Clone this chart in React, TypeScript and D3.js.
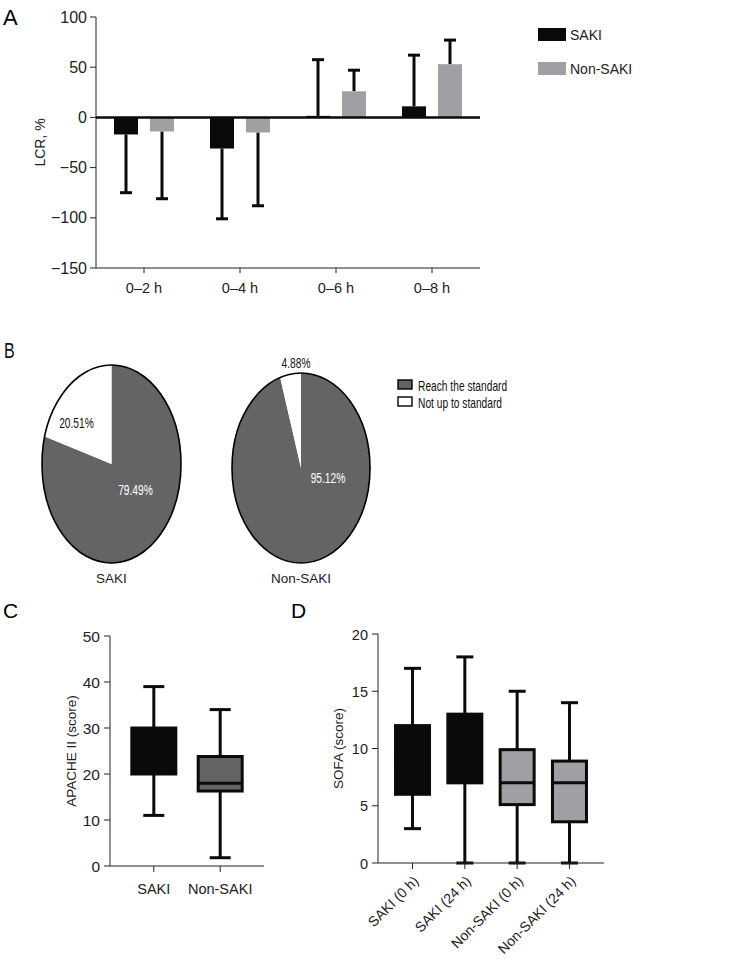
import * as d3 from 'd3';

// Panel A: LCR (%) mean with one-sided SD
const lcrGroups = ['0–2 h', '0–4 h', '0–6 h', '0–8 h'];
const lcrSeries = ['SAKI', 'Non-SAKI'];
const lcrSakiMean = [-17, -31, 1.5, 11];
const lcrSakiSd = [58, 70, 56, 51];
const lcrNonMean = [-14, -15, 26, 53];
const lcrNonSd = [67, 73, 21, 24];
const lcrTicks = [-150, -100, -50, 0, 50, 100];

// Panel B: share reaching the standard
const pieGroups = ['SAKI', 'Non-SAKI'];
const pieReach = [79.49, 95.12];
const pieNot = [20.51, 4.88];
const pieLegend = ['Reach the standard', 'Not up to standard'];

// Panel C: APACHE II
const apacheGroups = ['SAKI', 'Non-SAKI'];
const apacheMin = [11, 1.8];
const apacheQ1 = [20, 16.3];
const apacheMedian = [25, 18];
const apacheQ3 = [30, 23.8];
const apacheMax = [39, 34];
const apacheTicks = [0, 10, 20, 30, 40, 50];

// Panel D: SOFA
const sofaGroups = ['SAKI (0 h)', 'SAKI (24 h)', 'Non-SAKI (0 h)', 'Non-SAKI (24 h)'];
const sofaMin = [3, 0, 0, 0];
const sofaQ1 = [6, 7, 5.1, 3.6];
const sofaMedian = [9, 10, 7, 7];
const sofaQ3 = [12, 13, 9.9, 8.9];
const sofaMax = [17, 18, 15, 14];
const sofaTicks = [0, 5, 10, 15, 20];

const FONT = '"Liberation Sans", Arial, Helvetica, sans-serif';
const BLACK = '#0a0a0a';
const GRAY = '#a0a0a4';
const DARK = '#646464';

function BarPanel() {
  const x = d3.scaleBand<string>().domain(lcrGroups).range([96, 480]);
  const y = d3.scaleLinear().domain([-150, 100]).range([268, 17]);
  const series = [
    { name: lcrSeries[0], mean: lcrSakiMean, sd: lcrSakiSd, color: BLACK, dx: -18 },
    { name: lcrSeries[1], mean: lcrNonMean, sd: lcrNonSd, color: GRAY, dx: 18 },
  ];
  const bw = 24;
  return (
    <g>
      <text x={3} y={25} fontSize={22} fontFamily={FONT}>A</text>
      {/* y axis */}
      <line x1={96} x2={96} y1={y(100)} y2={y(-150)} stroke="#222" strokeWidth={1} />
      {lcrTicks.map((t) => (
        <g key={t}>
          <line x1={90} x2={96} y1={y(t)} y2={y(t)} stroke="#222" />
          <text x={87} y={y(t) + 5.5} textAnchor="end" fontSize={16} fontFamily={FONT} fill="#222">
            {t < 0 ? `−${-t}` : t}
          </text>
        </g>
      ))}
      <text
        transform={`translate(45,${(y(100) + y(-150)) / 2}) rotate(-90)`}
        textAnchor="middle"
        fontSize={14}
        fontFamily={FONT}
        fill="#222"
      >
        LCR, %
      </text>
      {/* bottom axis */}
      <line x1={96} x2={480} y1={y(-150)} y2={y(-150)} stroke="#222" />
      {lcrGroups.map((g) => {
        const cx = x(g)! + x.bandwidth() / 2;
        return (
          <g key={g}>
            <line x1={cx} x2={cx} y1={y(-150)} y2={y(-150) + 5} stroke="#222" />
            <text x={cx} y={y(-150) + 25} textAnchor="middle" fontSize={14.5} fontFamily={FONT} fill="#222">
              {g}
            </text>
          </g>
        );
      })}
      {/* bars and error bars */}
      {series.map((s) =>
        lcrGroups.map((g, i) => {
          const cx = x(g)! + x.bandwidth() / 2 + s.dx;
          const m = s.mean[i];
          const end = m + Math.sign(m) * s.sd[i];
          return (
            <g key={s.name + g}>
              <line x1={cx} x2={cx} y1={y(m)} y2={y(end)} stroke={BLACK} strokeWidth={3} />
              <line x1={cx - 6} x2={cx + 6} y1={y(end)} y2={y(end)} stroke={BLACK} strokeWidth={3} />
              <rect
                x={cx - bw / 2}
                width={bw}
                y={Math.min(y(m), y(0))}
                height={Math.abs(y(m) - y(0))}
                fill={s.color}
              />
            </g>
          );
        })
      )}
      <line x1={96} x2={480} y1={y(0)} y2={y(0)} stroke={BLACK} strokeWidth={2.5} />
      {/* legend */}
      {series.map((s, i) => (
        <g key={s.name} transform={`translate(538,${28 + i * 34})`}>
          <rect width={28} height={13} fill={s.color} />
          <text x={32} y={12} fontSize={14} fontFamily={FONT} fill="#222">
            {s.name}
          </text>
        </g>
      ))}
    </g>
  );
}

function Narrow({ x, y, children, anchor = 'start', fill = '#111', size = 14 }: any) {
  return (
    <text
      transform={`translate(${x},${y}) scale(0.73,1)`}
      textAnchor={anchor}
      fontSize={size}
      fontFamily={FONT}
      fill={fill}
    >
      {children}
    </text>
  );
}

function PiePanel() {
  const layout = [
    { cx: 111.5, cy: 464, rx: 69.5, ry: 99, big: [24, 31], small: [-35, -36] },
    { cx: 301, cy: 468, rx: 69, ry: 95, big: [27, 15], small: [-5, -100] },
  ];
  const pie = d3.pie<number>().sort(null).value((d) => d);
  const arc = d3.arc<d3.PieArcDatum<number>>().innerRadius(0).outerRadius(1);
  return (
    <g>
      <Narrow x={4} y={358} size={22}>B</Narrow>
      {pieGroups.map((g, i) => {
        const L = layout[i];
        const arcs = pie([pieReach[i], pieNot[i]]);
        return (
          <g key={g}>
            <g transform={`translate(${L.cx},${L.cy}) scale(${L.rx},${L.ry})`}>
              {arcs.map((a, j) => (
                <path key={j} d={arc(a)!} fill={j === 0 ? DARK : '#fff'} />
              ))}
              <ellipse
                cx={0}
                cy={0}
                rx={1}
                ry={1}
                fill="none"
                stroke="#000"
                strokeWidth={1.6}
                vectorEffect="non-scaling-stroke"
              />
            </g>
            <Narrow x={L.cx + L.big[0]} y={L.cy + L.big[1]} anchor="middle" fill="#fff">
              {pieReach[i].toFixed(2)}%
            </Narrow>
            <Narrow x={L.cx + L.small[0]} y={L.cy + L.small[1]} anchor="middle">
              {pieNot[i].toFixed(2)}%
            </Narrow>
            <text x={L.cx} y={583} textAnchor="middle" fontSize={13.5} fontFamily={FONT} fill="#222">
              {g}
            </text>
          </g>
        );
      })}
      {pieLegend.map((t, i) => (
        <g key={t} transform={`translate(398,${380 + i * 17})`}>
          <rect width={14} height={9} fill={i === 0 ? DARK : '#fff'} stroke="#000" strokeWidth={1.4} />
          <Narrow x={20} y={11}>{t}</Narrow>
        </g>
      ))}
    </g>
  );
}

function BoxPanel({
  letter, letterX, groups, min, q1, med, q3, max, ticks, domain, tickSize,
  x0, x1, yTop, yBottom, boxW, capW, fills, label, labelX, rotate,
}: any) {
  const x = d3.scalePoint<string>().domain(groups).range([x0, x1]).padding(0.66);
  const y = d3.scaleLinear().domain(domain).range([yBottom, yTop]);
  return (
    <g>
      <text x={letterX} y={618} fontSize={21} fontFamily={FONT}>{letter}</text>
      <line x1={x0} x2={x0} y1={yTop} y2={yBottom} stroke="#222" />
      {ticks.map((t: number) => (
        <g key={t}>
          <line x1={x0 - 6} x2={x0} y1={y(t)} y2={y(t)} stroke="#222" />
          <text x={x0 - 10} y={y(t) + 5.5} textAnchor="end" fontSize={tickSize} fontFamily={FONT} fill="#222">
            {t}
          </text>
        </g>
      ))}
      <text
        transform={`translate(${labelX},${(yTop + yBottom) / 2}) rotate(-90)`}
        textAnchor="middle"
        fontSize={13.5}
        fontFamily={FONT}
        fill="#222"
      >
        {label}
      </text>
      {groups.map((g: string, i: number) => {
        const cx = x(g)!;
        return (
          <g key={g}>
            <line x1={cx} x2={cx} y1={y(min[i])} y2={y(max[i])} stroke={BLACK} strokeWidth={3} />
            <line x1={cx - capW / 2} x2={cx + capW / 2} y1={y(min[i])} y2={y(min[i])} stroke={BLACK} strokeWidth={3} />
            <line x1={cx - capW / 2} x2={cx + capW / 2} y1={y(max[i])} y2={y(max[i])} stroke={BLACK} strokeWidth={3} />
            <rect
              x={cx - boxW / 2}
              width={boxW}
              y={y(q3[i])}
              height={y(q1[i]) - y(q3[i])}
              fill={fills[i]}
              stroke={BLACK}
              strokeWidth={3}
            />
            <line x1={cx - boxW / 2} x2={cx + boxW / 2} y1={y(med[i])} y2={y(med[i])} stroke={BLACK} strokeWidth={3} />
          </g>
        );
      })}
      <line x1={x0} x2={x1} y1={yBottom} y2={yBottom} stroke="#222" />
      {groups.map((g: string) => {
        const cx = x(g)!;
        return (
          <g key={g}>
            <line x1={cx} x2={cx} y1={yBottom} y2={yBottom + 6} stroke="#222" />
            {rotate ? (
              <text
                transform={`translate(${cx + 7},${yBottom + 19}) rotate(-45)`}
                textAnchor="end"
                fontSize={14}
                fontFamily={FONT}
                fill="#222"
              >
                {g}
              </text>
            ) : (
              <text x={cx} y={yBottom + 28} textAnchor="middle" fontSize={14.5} fontFamily={FONT} fill="#222">
                {g}
              </text>
            )}
          </g>
        );
      })}
    </g>
  );
}

export default function App() {
  return (
    <svg
      width={741}
      height={959}
      style={{ position: 'absolute', left: 0, top: 0, background: '#fff' }}
    >
      <rect width={741} height={959} fill="#fff" />
      <BarPanel />
      <PiePanel />
      <BoxPanel
        letter="C"
        letterX={3}
        groups={apacheGroups}
        min={apacheMin}
        q1={apacheQ1}
        med={apacheMedian}
        q3={apacheQ3}
        max={apacheMax}
        ticks={apacheTicks}
        tickSize={15.5}
        domain={[0, 50]}
        x0={110}
        x1={264}
        yTop={636}
        yBottom={866}
        boxW={44}
        capW={21}
        fills={[BLACK, DARK]}
        label="APACHE II (score)"
        labelX={76}
        rotate={false}
      />
      <BoxPanel
        letter="D"
        letterX={291}
        groups={sofaGroups}
        min={sofaMin}
        q1={sofaQ1}
        med={sofaMedian}
        q3={sofaQ3}
        max={sofaMax}
        ticks={sofaTicks}
        tickSize={14.5}
        domain={[0, 20]}
        x0={378}
        x1={604}
        yTop={634}
        yBottom={863}
        boxW={34}
        capW={17}
        fills={[BLACK, BLACK, GRAY, GRAY]}
        label="SOFA (score)"
        labelX={343}
        rotate={true}
      />
    </svg>
  );
}
